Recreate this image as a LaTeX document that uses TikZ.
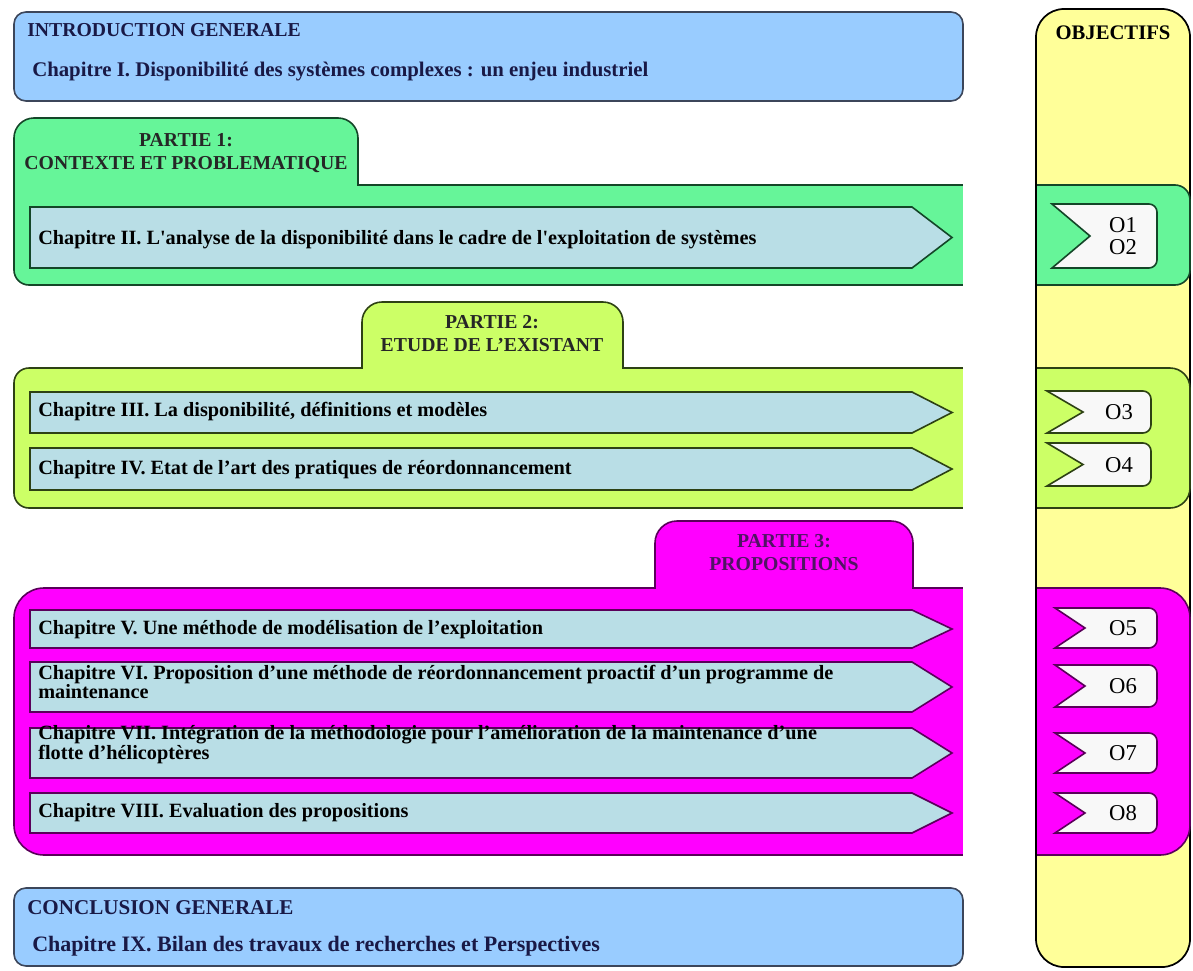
\documentclass[tikz,border=0pt]{standalone}
\usepackage{fontspec}
\setmainfont{Liberation Serif}
\definecolor{introblue}{RGB}{153,204,255}
\definecolor{introline}{RGB}{60,70,90}
\definecolor{navytxt}{RGB}{25,25,70}
\definecolor{pgreen}{RGB}{102,245,153}
\definecolor{pgreenline}{RGB}{20,70,40}
\definecolor{plime}{RGB}{204,255,102}
\definecolor{plimeline}{RGB}{45,65,20}
\definecolor{pmag}{RGB}{255,0,255}
\definecolor{pmagline}{RGB}{90,0,90}
\definecolor{purpletxt}{RGB}{80,20,100}
\definecolor{arrowfill}{RGB}{185,222,230}
\definecolor{colyellow}{RGB}{255,255,153}
\definecolor{tagfill}{RGB}{248,248,248}
\newcommand{\chevshape}[3]{%
  \draw[arrowbox, draw=#3] (30,#1) -- (912,#1) -- (952,{(#1+#2)/2}) -- (912,#2) -- (30,#2) -- cycle;}
\newcommand{\tagshape}[6]{%
  \draw[tagbox, draw=#6] (#1,#4) -- (#2,{(#4+#5)/2}) -- (#1,#5) -- ({#3-8},#5)
    arc[start angle=90,end angle=0,radius=8] -- (#3,{#4+8})
    arc[start angle=0,end angle=-90,radius=8] -- cycle;}
\begin{document}
\begin{tikzpicture}[x=0.75pt,y=-0.75pt,
  introbox/.style={fill=introblue, draw=introline, line width=1.2pt, rounded corners=9pt},
  arrowbox/.style={fill=arrowfill, line width=1.2pt, line join=miter},
  tagbox/.style={fill=tagfill, line width=1.2pt},
  partline/.style={line width=1.2pt},
  headtxt/.style={font=\fontsize{14.8}{17}\selectfont\bfseries, text=navytxt, inner sep=0pt, anchor=west},
  introchap/.style={font=\fontsize{15.6}{17}\selectfont\bfseries, text=navytxt, inner sep=0pt, anchor=west},
  chaptxt/.style={font=\fontsize{15.2}{14}\selectfont\bfseries, inner sep=0pt, anchor=west, align=left},
  tabtxt/.style={font=\fontsize{14.8}{17.3}\selectfont\bfseries, inner sep=0pt, align=center},
  objtxt/.style={font=\fontsize{17}{16.5}\selectfont, inner sep=0pt, align=center}]
\useasboundingbox (0,0) rectangle (1193,971);
\fill[white] (0,0) rectangle (1193,971);
% objectives column
\draw[fill=colyellow, draw=black, line width=1.3pt] (1036,37) arc[start angle=180,end angle=270,radius=28] -- (1162,9) arc[start angle=270,end angle=360,radius=28] -- (1190,939) arc[start angle=0,end angle=90,radius=28] -- (1064,967) arc[start angle=90,end angle=180,radius=28] -- cycle;
% part 1
\draw[fill=pgreen, draw=pgreenline, partline] (14,138) arc[start angle=180,end angle=270,radius=20] -- (338,118) arc[start angle=270,end angle=360,radius=20] -- (358,185) -- (1175,185) arc[start angle=270,end angle=360,radius=15] -- (1190,270) arc[start angle=0,end angle=90,radius=15] -- (29,285) arc[start angle=90,end angle=180,radius=15] -- cycle;
% part 2
\draw[fill=plime, draw=plimeline, partline] (14,383) arc[start angle=180,end angle=270,radius=15] -- (362,368) -- (362,322) arc[start angle=180,end angle=270,radius=20] -- (603,302) arc[start angle=270,end angle=360,radius=20] -- (623,368) -- (1170,368) arc[start angle=270,end angle=360,radius=20] -- (1190,488) arc[start angle=0,end angle=90,radius=20] -- (29,508) arc[start angle=90,end angle=180,radius=15] -- cycle;
% part 3
\draw[fill=pmag, draw=pmagline, partline] (14,618) arc[start angle=180,end angle=270,radius=30] -- (655,588) -- (655,543) arc[start angle=180,end angle=270,radius=22] -- (891,521) arc[start angle=270,end angle=360,radius=22] -- (913,588) -- (1160,588) arc[start angle=270,end angle=360,radius=30] -- (1190,825) arc[start angle=0,end angle=90,radius=30] -- (44,855) arc[start angle=90,end angle=180,radius=30] -- cycle;
% white gap between the main column and the objectives column
\fill[white] (963,0) rectangle (1034.5,971);
\draw[black, line width=1.3pt] (1036,37) -- (1036,939);
% intro / conclusion boxes
\draw[introbox] (14,12) rectangle (963,101);
\draw[introbox] (14,888) rectangle (963,966);
% chapter arrows
\chevshape{207}{268}{pgreenline}
\chevshape{392}{433}{plimeline}
\chevshape{448}{490}{plimeline}
\chevshape{610}{648}{pmagline}
\chevshape{662}{712}{pmagline}
\chevshape{728}{778}{pmagline}
\chevshape{793}{833}{pmagline}
% objective tags
\tagshape{1052}{1090}{1157}{204}{268}{pgreenline}
\tagshape{1047}{1083}{1151}{391}{433}{plimeline}
\tagshape{1047}{1083}{1151}{443}{486}{plimeline}
\tagshape{1055}{1085}{1157}{608}{648}{pmagline}
\tagshape{1055}{1085}{1157}{665}{707}{pmagline}
\tagshape{1055}{1085}{1157}{733}{773}{pmagline}
\tagshape{1055}{1085}{1157}{793}{833}{pmagline}
% texts
\node[headtxt] (introT) at (27,30) {INTRODUCTION GENERALE};
\node[introchap] (chap1) at (32,72) {Chapitre I. Disponibilité des systèmes complexes : un enjeu industriel};
\node[tabtxt, text=black!85] (part1) at (186,153.5) {PARTIE 1:\\CONTEXTE ET PROBLEMATIQUE};
\node[chaptxt] (chap2) at (38,240) {Chapitre II. L\textquotesingle analyse de la disponibilité dans le cadre de l\textquotesingle exploitation de systèmes};
\node[tabtxt, text=black!85] (part2) at (492,333.5) {PARTIE 2:\\ETUDE DE L’EXISTANT};
\node[chaptxt] (chap3) at (38,412) {Chapitre III. La disponibilité, définitions et modèles};
\node[chaptxt] (chap4) at (38,470) {Chapitre IV. Etat de l’art des pratiques de réordonnancement};
\node[tabtxt, text=purpletxt] (part3) at (784,553) {PARTIE 3:\\PROPOSITIONS};
\node[chaptxt] (chap5) at (38,630) {Chapitre V. Une méthode de modélisation de l’exploitation};
\node[chaptxt] (chap6) at (38,682) {Chapitre VI. Proposition d’une méthode de réordonnancement proactif d’un programme de\\maintenance};
\node[chaptxt] (chap7) at (38,745) {Chapitre VII. Intégration de la méthodologie pour l’amélioration de la maintenance d’une\\flotte d’hélicoptères};
\node[chaptxt] (chap8) at (38,813) {Chapitre VIII. Evaluation des propositions};
\node[headtxt, font=\fontsize{15.8}{17}\selectfont\bfseries] (conclT) at (27,908) {CONCLUSION GENERALE};
\node[introchap, font=\fontsize{16.5}{17}\selectfont\bfseries] (chap9) at (32,946) {Chapitre IX. Bilan des travaux de recherches et Perspectives};
\node[font=\fontsize{15.5}{17}\selectfont\bfseries, inner sep=0pt] (objT) at (1113,33) {OBJECTIFS};
\node[objtxt] (o12) at (1123,236) {O1\\O2};
\node[objtxt] (o3) at (1119,412) {O3};
\node[objtxt] (o4) at (1119,465) {O4};
\node[objtxt] (o5) at (1123,628) {O5};
\node[objtxt] (o6) at (1123,686) {O6};
\node[objtxt] (o7) at (1123,753) {O7};
\node[objtxt] (o8) at (1123,813) {O8};
\end{tikzpicture}
\end{document}
